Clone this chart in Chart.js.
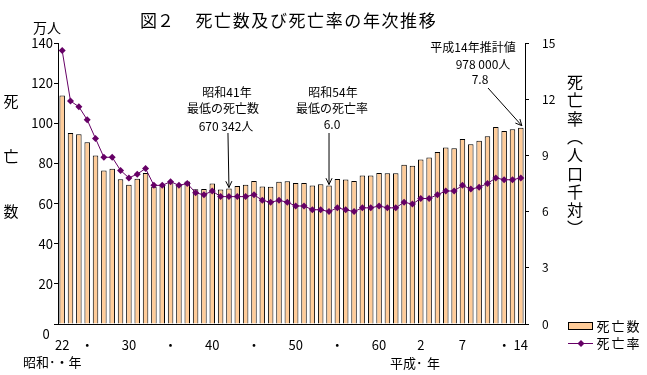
<!DOCTYPE html>
<html>
<head>
<meta charset="utf-8">
<script src="https://cdn.jsdelivr.net/npm/chart.js@4/dist/chart.umd.min.js"></script>
<style>
  body { margin: 0; background: #fff; }
  canvas { display: block; }
</style>
</head>
<body>
<canvas id="chart" width="647" height="375"></canvas>
<script>
// 昭和22年(1947) 〜 平成14年(2002)
const years = [
    1947, 1948, 1949, 1950, 1951, 1952, 1953, 1954, 1955, 1956,
    1957, 1958, 1959, 1960, 1961, 1962, 1963, 1964, 1965, 1966,
    1967, 1968, 1969, 1970, 1971, 1972, 1973, 1974, 1975, 1976,
    1977, 1978, 1979, 1980, 1981, 1982, 1983, 1984, 1985, 1986,
    1987, 1988, 1989, 1990, 1991, 1992, 1993, 1994, 1995, 1996,
    1997, 1998, 1999, 2000, 2001, 2002
];

// 死亡数（万人）
const deaths = [
    113.8, 95.1, 94.5, 90.5, 83.9, 76.5, 77.3, 72.1, 69.4, 72.4,
    75.2, 68.4, 69.0, 70.7, 69.6, 71.0, 67.1, 67.3, 70.0, 67.0,
    67.5, 68.7, 69.4, 71.3, 68.5, 68.4, 70.9, 71.1, 70.2, 70.3,
    69.0, 69.6, 69.0, 72.3, 72.0, 71.2, 74.0, 74.0, 75.2, 75.1,
    75.1, 79.3, 78.9, 82.0, 83.0, 85.7, 87.9, 87.6, 92.2, 89.6,
    91.3, 93.6, 98.2, 96.2, 97.0, 97.8
];

// 死亡率（人口千対）
const rates = [
    14.6, 11.9, 11.6, 10.9, 9.9, 8.9, 8.9, 8.2, 7.8, 8.0,
    8.3, 7.4, 7.4, 7.6, 7.4, 7.5, 7.0, 6.9, 7.1, 6.8,
    6.8, 6.8, 6.8, 6.9, 6.6, 6.5, 6.6, 6.5, 6.3, 6.3,
    6.1, 6.1, 6.0, 6.2, 6.1, 6.0, 6.2, 6.2, 6.3, 6.2,
    6.2, 6.5, 6.4, 6.7, 6.7, 6.9, 7.1, 7.1, 7.4, 7.2,
    7.3, 7.5, 7.8, 7.7, 7.7, 7.8
];

// x axis labels, one per year ('' = no label)
const yearTicks = [
    '22', '', '', '・', '', '', '', '', '30', '',
    '', '', '', '・', '', '', '', '', '40', '',
    '', '', '', '・', '', '', '', '', '50', '',
    '', '', '', '・', '', '', '', '', '60', '',
    '', '', '', '2', '', '', '', '', '7', '',
    '', '', '', '・', '', '14'
];

const countTicks = [0, 20, 40, 60, 80, 100, 120, 140];
const rateTicks = [0, 3, 6, 9, 12, 15];

const JP = '"Noto Sans CJK JP", "Noto Sans", sans-serif';
const barColor = '#FFCC99';
const lineColor = '#660066';

function text(ctx, str, x, y, size, align) {
    ctx.font = size + 'px ' + JP;
    ctx.textAlign = align || 'center';
    ctx.textBaseline = 'middle';
    ctx.fillText(str, x, y);
}

function arrow(ctx, x1, y1, x2, y2) {
    ctx.beginPath();
    ctx.moveTo(x1, y1);
    ctx.lineTo(x2, y2);
    const a = Math.atan2(y2 - y1, x2 - x1);
    const len = 7, spread = 0.45;
    ctx.moveTo(x2 - len * Math.cos(a - spread), y2 - len * Math.sin(a - spread));
    ctx.lineTo(x2, y2);
    ctx.lineTo(x2 - len * Math.cos(a + spread), y2 - len * Math.sin(a + spread));
    ctx.stroke();
}

const decorations = {
    id: 'decorations',
    afterDraw(chart) {
        const ctx = chart.ctx;
        const xs = chart.scales.x;
        const ys = chart.scales.y;
        ctx.save();
        ctx.fillStyle = '#000';
        ctx.strokeStyle = '#000';
        ctx.lineWidth = 1;

        // title
        text(ctx, '図２', 140, 21, 17, 'left');
        const title = '死亡数及び死亡率の年次推移';
        for (let i = 0; i < title.length; i++) {
            text(ctx, title[i], 204 + i * 18.6, 21, 17);
        }

        // left axis captions
        text(ctx, '万人', 47, 28, 14);
        text(ctx, '0', 46, 334, 13);
        ['死', '亡', '数'].forEach((c, i) => text(ctx, c, 11, 101 + i * 55, 15));

        // right axis caption (vertical)
        const rt = ['死', '亡', '率', '︵', '人', '口', '千', '対', '︶'];
        rt.forEach((c, i) => text(ctx, c, 575, 82 + i * 18.3, 16));

        // era captions
        text(ctx, '昭和･・年', 23, 362, 13, 'left');
        text(ctx, '平成･', 390, 363, 13, 'left');
        text(ctx, '年', 427, 363, 13, 'left');

        // annotation: lowest number of deaths
        text(ctx, '昭和41年', 227, 92, 12);
        text(ctx, '最低の死亡数', 223, 108, 12);
        text(ctx, '670 342人', 226, 126, 12);
        const ax1 = xs.getPixelForValue(20);
        arrow(ctx, ax1 - 1, 133, ax1, ys.getPixelForValue(deaths[20]) - 1);

        // annotation: lowest death rate
        text(ctx, '昭和54年', 333, 92, 12);
        text(ctx, '最低の死亡率', 332, 108, 12);
        text(ctx, '6.0', 332, 124, 12);
        const ax2 = xs.getPixelForValue(32);
        arrow(ctx, ax2, 133, ax2, ys.getPixelForValue(deaths[32]) - 1);

        // annotation: 2002 estimate
        text(ctx, '平成14年推計値', 473, 47, 12);
        text(ctx, '978 000人', 483, 64, 12);
        text(ctx, '7.8', 480, 79, 12);
        const last = deaths.length - 1;
        arrow(ctx, 488, 88, xs.getPixelForValue(last) + 1, ys.getPixelForValue(deaths[last]) - 2);

        // legend
        ctx.fillStyle = barColor;
        ctx.fillRect(568.5, 322.5, 24, 7);
        ctx.strokeRect(568.5, 322.5, 24, 7);
        ctx.fillStyle = '#000';
        ['死', '亡', '数'].forEach((c, i) => text(ctx, c, 603 + i * 15, 326, 13));

        ctx.strokeStyle = lineColor;
        ctx.beginPath();
        ctx.moveTo(568, 343.5);
        ctx.lineTo(593, 343.5);
        ctx.stroke();
        ctx.fillStyle = lineColor;
        ctx.beginPath();
        ctx.moveTo(581, 340);
        ctx.lineTo(584.5, 343.5);
        ctx.lineTo(581, 347);
        ctx.lineTo(577.5, 343.5);
        ctx.closePath();
        ctx.fill();
        ctx.fillStyle = '#000';
        ['死', '亡', '率'].forEach((c, i) => text(ctx, c, 603 + i * 15, 343, 13));

        ctx.restore();
    }
};

new Chart(document.getElementById('chart'), {
    type: 'bar',
    data: {
        labels: years,
        datasets: [
            {
                type: 'line',
                label: '死亡率',
                data: rates,
                yAxisID: 'y1',
                borderColor: lineColor,
                borderWidth: 1,
                backgroundColor: lineColor,
                pointStyle: 'rectRot',
                pointRadius: 3.5,
                pointBorderWidth: 0,
                pointBackgroundColor: lineColor,
                tension: 0,
                order: 0
            },
            {
                type: 'bar',
                label: '死亡数',
                data: deaths,
                yAxisID: 'y',
                backgroundColor: barColor,
                borderColor: '#000',
                borderWidth: 1,
                barPercentage: 0.66,
                categoryPercentage: 1,
                order: 1
            }
        ]
    },
    options: {
        responsive: false,
        animation: false,
        devicePixelRatio: 1,
        layout: { padding: { top: 43, left: 0, right: 0, bottom: 0 } },
        plugins: {
            legend: { display: false },
            title: { display: false },
            tooltip: { enabled: false }
        },
        scales: {
            x: {
                grid: { display: false, tickLength: 0 },
                border: { display: true, color: '#000' },
                ticks: {
                    autoSkip: false,
                    maxRotation: 0,
                    padding: 13,
                    color: '#000',
                    font: { family: JP, size: 13 },
                    callback: (v, i) => yearTicks[i]
                },
                afterFit: s => { s.height = 51; }
            },
            y: {
                position: 'left',
                min: 0,
                max: 140,
                afterBuildTicks: s => { s.ticks = countTicks.map(v => ({ value: v })); },
                grid: { drawOnChartArea: false, color: '#000', tickLength: 4 },
                border: { display: true, color: '#000' },
                ticks: {
                    padding: 1,
                    color: '#000',
                    font: { family: JP, size: 13 },
                    callback: v => (v === 0 ? '' : v)
                },
                afterFit: s => { s.width = 58; }
            },
            y1: {
                position: 'right',
                min: 0,
                max: 15,
                afterBuildTicks: s => { s.ticks = rateTicks.map(v => ({ value: v })); },
                grid: { drawOnChartArea: false, color: '#000', tickLength: 4 },
                border: { display: true, color: '#000' },
                ticks: {
                    padding: 13,
                    color: '#000',
                    font: { family: JP, size: 12 }
                },
                afterFit: s => { s.width = 122; }
            }
        }
    },
    plugins: [decorations]
});
</script>
</body>
</html>
